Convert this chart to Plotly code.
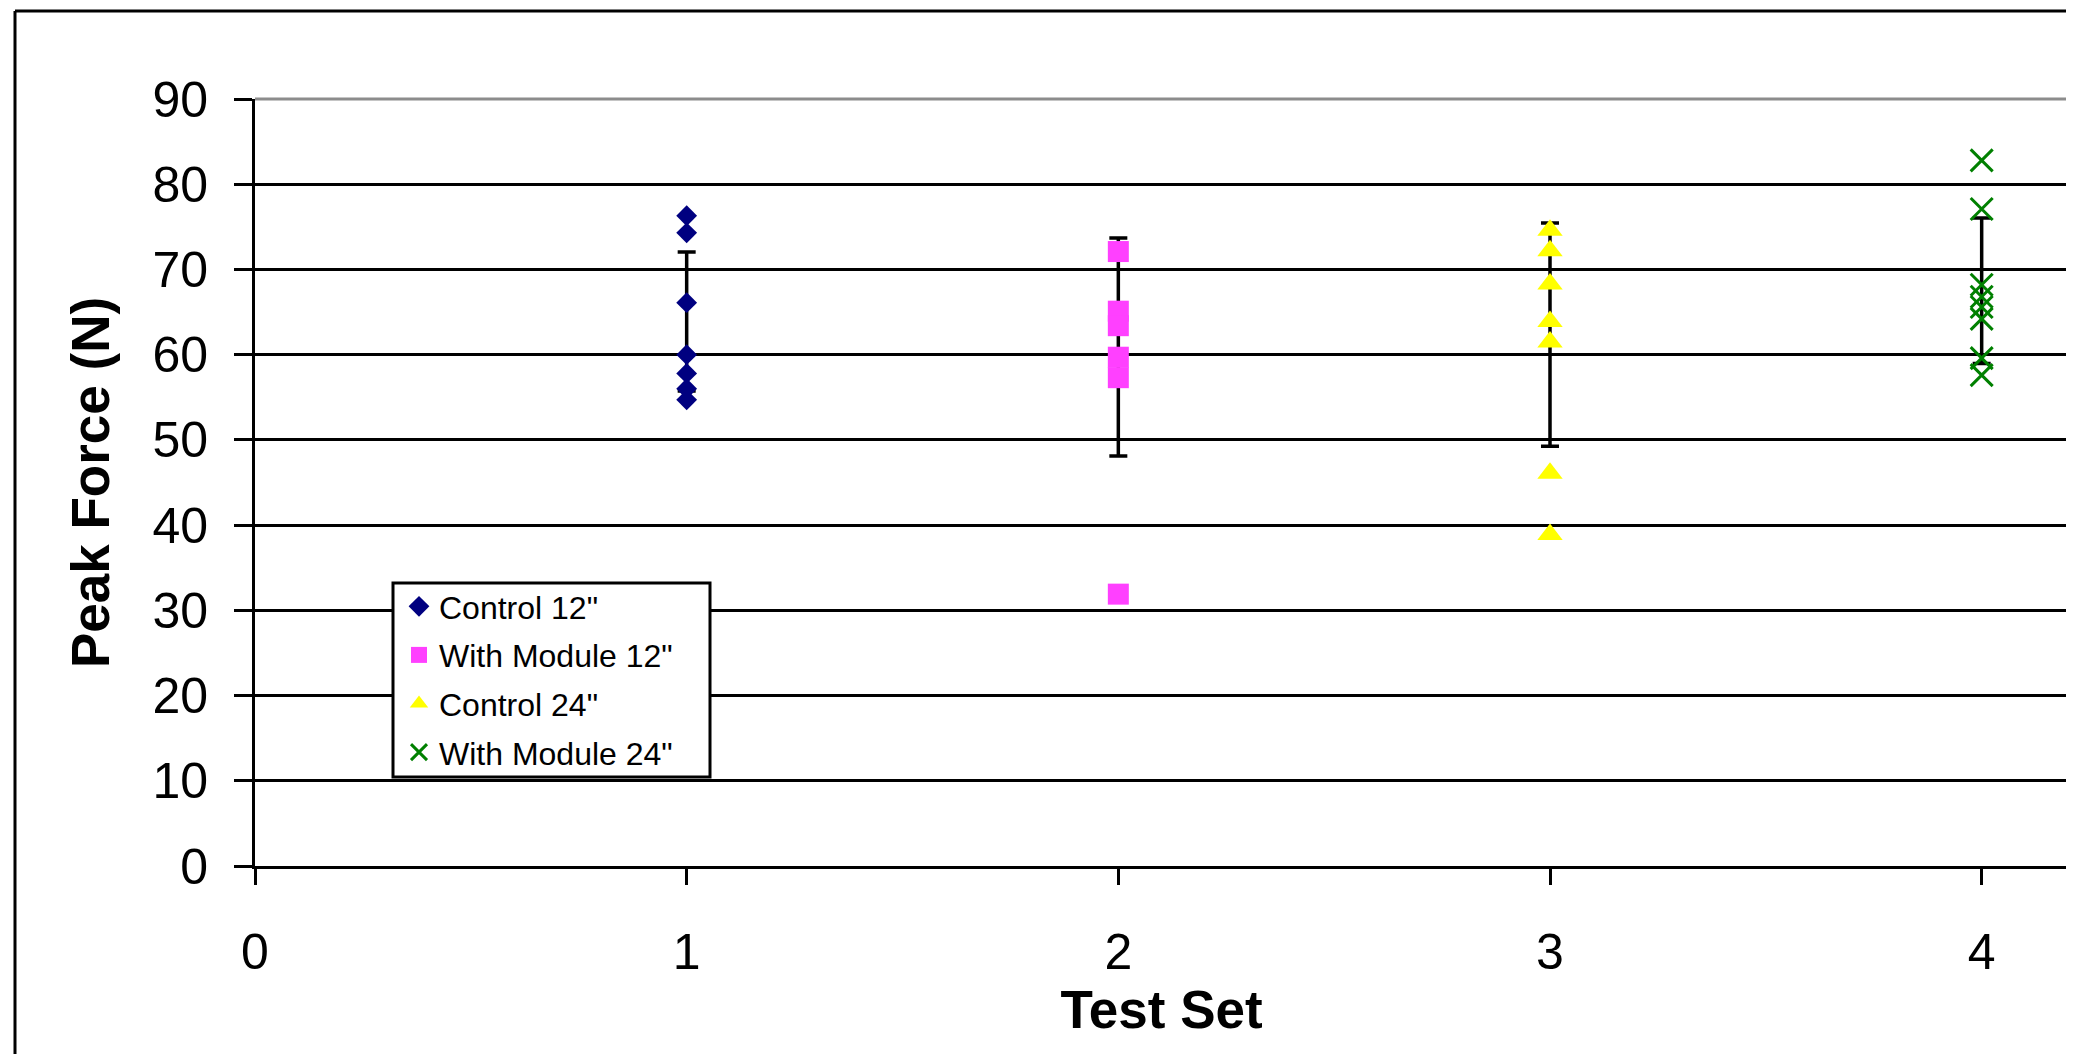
import plotly.graph_objects as go

# ---- data ----
series_names = ['Control 12"', 'With Module 12"', 'Control 24"', 'With Module 24"']
test_sets = [1, 2, 3, 4]

control_12 = [76.3, 74.3, 66.1, 60.0, 57.8, 56.0, 54.7]
module_12 = [72.1, 65.1, 63.4, 59.7, 57.3, 31.9]
control_24 = [74.6, 72.2, 68.3, 63.9, 61.5, 46.1, 38.9]
module_24 = [82.8, 77.1, 68.2, 66.8, 65.6, 64.2, 59.6, 57.6]

err_means = [63.9, 60.9, 62.35, 67.5]
err_sd = [8.15, 12.8, 13.1, 8.55]

y_ticks = [0, 10, 20, 30, 40, 50, 60, 70, 80, 90]
x_ticks = [0, 1, 2, 3, 4]

# ---- styles ----
colors = ["#000080", "#FF40FF", "#FFFF00", "#008000"]
symbols = ["diamond", "square", "triangle-up", "x-thin"]
sizes = [16, 21, 22, 22]
values = [control_12, module_12, control_24, module_24]

FONT = "Liberation Sans, Arial, sans-serif"

fig = go.Figure()

# error bars (drawn under markers)
fig.add_trace(go.Scatter(
    x=test_sets, y=err_means, mode="markers",
    marker=dict(size=1, color="rgba(0,0,0,0)"),
    error_y=dict(type="data", array=err_sd, visible=True,
                 color="black", thickness=3.5, width=9),
    showlegend=False, hoverinfo="skip",
))

for i, (name, vals) in enumerate(zip(series_names, values)):
    marker = dict(symbol=symbols[i], size=sizes[i], color=colors[i])
    if symbols[i] == "x-thin":
        marker["line"] = dict(width=3, color=colors[i])
    else:
        marker["line"] = dict(width=0)
    fig.add_trace(go.Scatter(
        x=[test_sets[i]] * len(vals), y=vals, mode="markers",
        name=name, marker=marker, legendgroup=name,
    ))

# page is offset by the 8px body margin; target page coordinates below
OFF = 8
PL, PR, PT, PB = 255, 2068, 99, 866     # plot area in page pixels
W, H = 2074 - OFF, 1054 - OFF
L, T = PL - OFF, PT - OFF
R = 2074 - PR
B = 1054 - PB
pw = PR - PL
ph = PB - PT


def px(xp):
    return (xp - PL) / pw


def py(yp):
    return (PB - yp) / ph


fig.update_layout(
    width=W, height=H,
    margin=dict(l=L, r=R, t=T, b=B, pad=0),
    paper_bgcolor="white", plot_bgcolor="white",
    font=dict(family=FONT, color="black"),
    showlegend=True,
    legend=dict(
        x=px(399), y=py(579),
        xanchor="left", yanchor="top",
        bgcolor="rgba(0,0,0,0)", borderwidth=0,
        font=dict(family=FONT, size=32, color="black"),
        itemsizing="trace", tracegroupgap=4,
        traceorder="grouped",
    ),
    xaxis=dict(
        range=[0, 4.2], tickmode="array", tickvals=x_ticks,
        ticks="outside", ticklen=16, tickwidth=3, tickcolor="black",
        ticklabelstandoff=24,
        showgrid=False, zeroline=False,
        showline=True, linecolor="black", linewidth=3,
        tickfont=dict(family=FONT, size=50, color="black"),
        title=dict(text="Test Set", standoff=0,
                   font=dict(family=FONT, size=53, color="black", weight="bold")),
    ),
    yaxis=dict(
        range=[0, 90], tickmode="array", tickvals=y_ticks,
        ticks="outside", ticklen=18, tickwidth=3, tickcolor="black",
        ticklabelstandoff=16,
        showgrid=True, gridcolor="black", gridwidth=3, zeroline=False,
        showline=True, linecolor="black", linewidth=3,
        tickfont=dict(family=FONT, size=50, color="black"),
        title=dict(text="Peak Force (N)", standoff=26,
                   font=dict(family=FONT, size=53, color="black", weight="bold")),
    ),
    shapes=[
        # plot area border (top and right) in gray
        dict(type="line", xref="paper", yref="paper", x0=0, x1=1, y0=1, y1=1,
             line=dict(color="#8c8c8c", width=3), layer="above"),
        dict(type="line", xref="paper", yref="paper", x0=1, x1=1, y0=0, y1=1,
             line=dict(color="#8c8c8c", width=3), layer="above"),
        # legend box
        dict(type="rect", xref="paper", yref="paper",
             x0=px(393), x1=px(710), y0=py(777), y1=py(583),
             fillcolor="white", line=dict(color="black", width=3), layer="above"),
        # chart area border (left and top; rest beyond the image)
        dict(type="line", xref="paper", yref="paper",
             x0=px(15), x1=px(15), y0=py(11), y1=-0.5,
             line=dict(color="black", width=3)),
        dict(type="line", xref="paper", yref="paper",
             x0=px(15), x1=1.2, y0=py(11), y1=py(11),
             line=dict(color="black", width=3)),
    ],
)

fig.write_html("out.html")
